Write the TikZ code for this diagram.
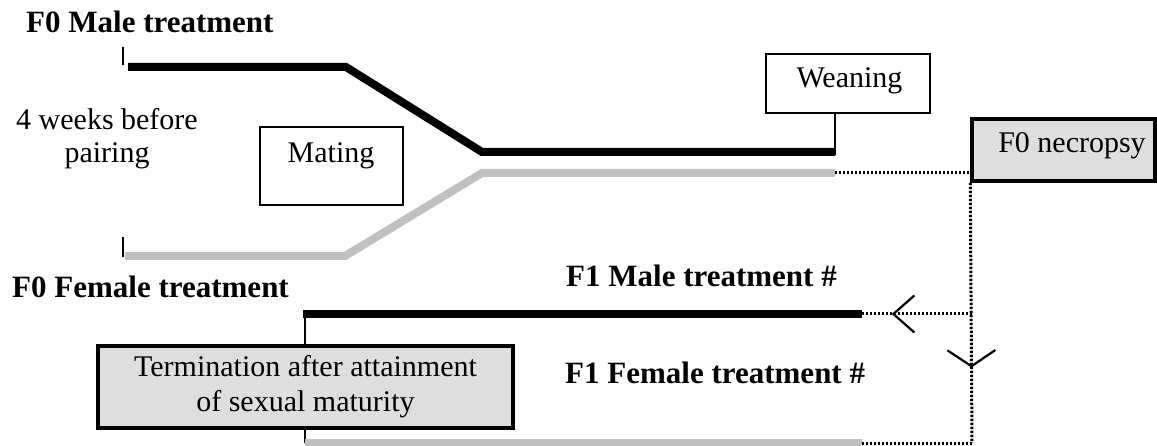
\documentclass[tikz,border=0pt]{standalone}
\usepackage{fontspec}
\setmainfont{Liberation Serif}
\usetikzlibrary{arrows.meta,decorations.markings}
\definecolor{shadegrey}{RGB}{222,222,222}
\definecolor{linegrey}{RGB}{192,192,192}
\begin{document}
\begin{tikzpicture}[x=1pt,y=-1pt,
  thickblack/.style={line width=8pt, draw=black},
  thickgrey/.style={line width=8pt, draw=linegrey},
  thinline/.style={line width=2pt, draw=black},
  dotline/.style={line width=3pt, draw=black, dash pattern=on 2.4pt off 1.6pt},
  plainbox/.style={draw=black, line width=1.5pt, inner sep=0pt},
  shadebox/.style={draw=black, line width=3.5pt, fill=shadegrey, inner sep=0pt},
  lbl/.style={font=\fontsize{31}{34}\selectfont\bfseries, inner sep=0pt, anchor=base west},
  txt/.style={font=\fontsize{30}{33}\selectfont, inner sep=0pt},
  leftmark/.style={postaction={decorate, decoration={markings,
     mark=at position #1 with {\arrow{Straight Barb[length=21pt,width=37pt,line width=2.2pt]}}}}},
  downmark/.style={postaction={decorate, decoration={markings,
     mark=at position #1 with {\arrow{Straight Barb[length=16pt,width=48pt,line width=2.2pt]}}}}},
]
\useasboundingbox (0,0) rectangle (1157,446);

% text labels
\node[lbl] (f0male) at (26,33) {F0 Male treatment};
\node[lbl] (f0female) at (12,298) {F0 Female treatment};
\node[lbl] (f1male) at (566,287) {F1 Male treatment \#};
\node[lbl] (f1female) at (565,383) {F1 Female treatment \#};
\node[txt, align=center, font=\fontsize{30}{33}\selectfont] (weeks) at (107,139) {4 weeks before\\pairing};

% boxes
\node[plainbox, minimum width=143pt, minimum height=78pt] (mating) at (331.5,166) {};
\node[txt, anchor=base] (matingtext) at (331,163) {Mating};
\node[plainbox, minimum width=164pt, minimum height=59pt] (weaning) at (848,83.5) {};
\node[txt, anchor=base] (weaningtext) at (849.5,88) {Weaning};
\node[shadebox, minimum width=183pt, minimum height=62pt] (necropsy) at (1063.5,150) {};
\node[txt, anchor=base] (necropsytext) at (1072,153) {F0 necropsy};
\node[shadebox, minimum width=415pt, minimum height=82pt, align=center,
      font=\fontsize{30}{35}\selectfont] (term) at (305.5,387)
      {Termination after attainment\\of sexual maturity};

% key points
\coordinate (mStart) at (128,67);
\coordinate (mBend1) at (346,67);
\coordinate (mBend2) at (482,152);
\coordinate (mEnd) at (835,152);
\coordinate (fStart) at (125,256);
\coordinate (fBend1) at (345,256);
\coordinate (fBend2) at (482,173);
\coordinate (fEnd) at (835,173);
\coordinate (f1mStart) at (303,314);
\coordinate (f1mEnd) at (862,314);
\coordinate (f1fStart) at (305,443);
\coordinate (f1fEnd) at (862,443);
\coordinate (vx) at (972,0);
\coordinate (hx) at (305,0);

% ticks
\draw[thinline] (123,47) -- (123,65);
\draw[thinline] (123,237) -- (123,257);

% F0 treatment lines
\draw[thickblack] (mStart) -- (mBend1) -- (mBend2) -- (mEnd);
\draw[thinline] ([yshift=-3pt]mEnd) -- (mEnd |- weaning.south);
\draw[thickgrey] (fStart) -- (fBend1) -- (fBend2) -- (fEnd);

% F1 treatment lines
\draw[thinline] (305,318) -- (hx |- term.north);
\draw[thickblack] (f1mStart) -- (f1mEnd);
\draw[thinline] (hx |- term.south) -- (f1fStart);
\draw[thickgrey] (f1fStart) -- (f1fEnd);

% dotted connectors
\draw[dotline] (fEnd) -- (fEnd -| necropsy.west);
\draw[dotline, downmark=0.71] (necropsy.south west) -- (vx |- f1fEnd);
\draw[dotline] (vx |- f1fEnd) -- (f1fEnd);
\draw[dotline, leftmark=0.73] (vx |- f1mEnd) -- (f1mEnd);
\end{tikzpicture}
\end{document}
